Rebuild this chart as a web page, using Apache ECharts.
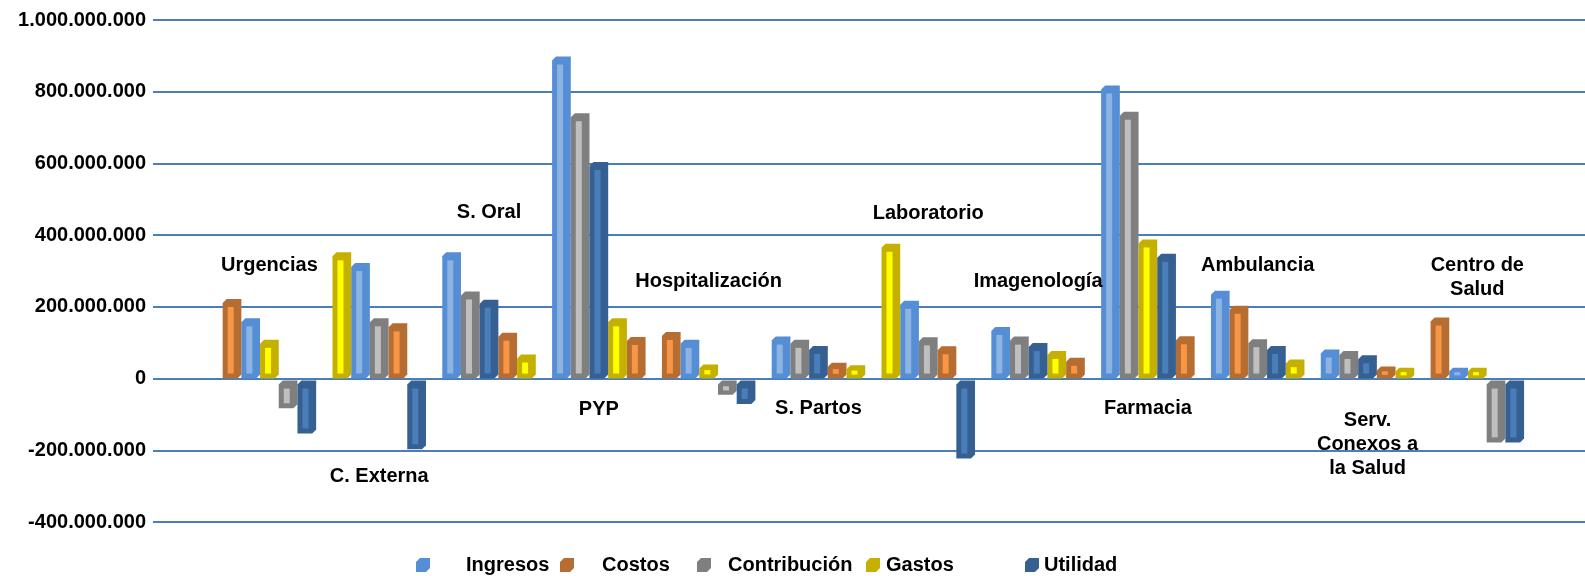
<!DOCTYPE html>
<html>
<head>
<meta charset="utf-8">
<script src="https://cdn.jsdelivr.net/npm/echarts@6/dist/echarts.min.js"></script>
<style>
  html, body { margin: 0; padding: 0; background: #fff; }
  #chart { width: 1585px; height: 576px; }
</style>
</head>
<body>
<div id="chart"></div>
<script>
var categories = ['Urgencias', 'C. Externa', 'S. Oral', 'PYP', 'Hospitalización', 'S. Partos',
  'Laboratorio', 'Imagenología', 'Farmacia', 'Ambulancia', 'Serv.\nConexos a\nla Salud', 'Centro de\nSalud'];
var seriesNames = ['Ingresos', 'Costos', 'Contribución', 'Gastos', 'Utilidad'];

var ingresos     = [168e6, 322e6, 352e6, 898e6, 108e6, 117e6, 217e6, 144e6, 817e6, 245e6, 81e6, 30e6];
var costos       = [222e6, 154e6, 128e6, 116e6, 130e6, 44e6, 90e6, 58e6, 118e6, 203e6, 34e6, 170e6];
var contribucion = [-83e6, 168e6, 243e6, 740e6, -45e6, 108e6, 115e6, 117e6, 744e6, 110e6, 77e6, -178e6];
var gastos       = [108e6, 352e6, 67e6, 168e6, 39e6, 37e6, 376e6, 77e6, 388e6, 53e6, 30e6, 30e6];
var utilidad     = [-153e6, -197e6, 220e6, 604e6, -71e6, 91e6, -223e6, 99e6, 348e6, 91e6, 65e6, -178e6];

var yMin = -400e6, yMax = 1000e6, yStep = 200e6;

// layout (not data)
var colors = ['#558ED5', '#B66D31', '#7F7F7F', '#C5B000', '#376092'];
var innerColors = ['#8DB3E2', '#F79646', '#BFBFBF', '#FFFF00', '#4A7EBB'];
var groupPitch = 5.872;
var labelY = [316e6, -273e6, 464e6, -86e6, 272e6, -83e6, 461e6, 272e6, -83e6, 316e6, -183e6, 281e6];
var legendLeft = [411, 555, 692, 861, 1020];
var legendPad = [31, 23, 12, 1, 0];
var font = '"Liberation Sans", Arial, sans-serif';

var seriesValues = [ingresos, costos, contribucion, gastos, utilidad];

// each category shows its bars sorted from highest to lowest
var slots = seriesValues.map(function () { return []; });
categories.forEach(function (c, g) {
  var order = [0, 1, 2, 3, 4].sort(function (a, b) {
    return (seriesValues[b][g] - seriesValues[a][g]) || (a - b);
  });
  order.forEach(function (s, rank) {
    slots[s][g] = g * groupPitch + rank;
  });
});

function fmt(v) {
  var s = String(Math.abs(v)).replace(/\B(?=(\d{3})+(?!\d))/g, '.');
  return (v < 0 ? '-' : '') + s;
}

function barRenderer(outer, inner) {
  return function (params, api) {
    var x = api.value(0);
    var v = api.value(1);
    var pTop = api.coord([x, Math.max(v, 0)]);
    var pBot = api.coord([x, Math.min(v, 0)]);
    var w = api.size([1, 0])[0];
    var x0 = pTop[0] - w / 2, x1 = pTop[0] + w / 2;
    var y0 = pTop[1], y1 = pBot[1];
    if (v < 0) y0 += 2;
    var h = y1 - y0;
    var c = Math.min(4, h / 3);
    var children = [{
      type: 'polygon',
      shape: { points: [[x0 + c, y0], [x1, y0], [x1, y1 - c], [x1 - c, y1], [x0, y1], [x0, y0 + c]] },
      style: { fill: outer }
    }];
    var padT = Math.min(8, h * 0.4), padB = Math.min(5, h * 0.3);
    if (h - padT - padB > 0.5) {
      children.push({
        type: 'rect',
        shape: { x: x0 + 5, y: y0 + padT, width: 6, height: h - padT - padB },
        style: { fill: inner }
      });
    }
    return { type: 'group', children: children };
  };
}

var series = seriesNames.map(function (name, s) {
  return {
    name: name,
    type: 'custom',
    itemStyle: { color: colors[s] },
    renderItem: barRenderer(colors[s], innerColors[s]),
    encode: { x: 0, y: 1 },
    data: seriesValues[s].map(function (v, g) { return [slots[s][g], v]; })
  };
});

series.push({
  type: 'scatter',
  silent: true,
  symbolSize: 0,
  itemStyle: { opacity: 1 },
  label: {
    show: true,
    position: 'inside',
    color: '#000',
    opacity: 1,
    fontFamily: font,
    fontWeight: 'bold',
    fontSize: 20,
    lineHeight: 24,
    align: 'center',
    formatter: function (p) { return categories[p.dataIndex]; }
  },
  data: categories.map(function (c, g) { return [g * groupPitch + 2, labelY[g]]; })
});

var legends = seriesNames.map(function (name, s) {
  return {
    data: [name],
    left: legendLeft[s],
    top: 550,
    itemWidth: 14,
    itemHeight: 14,
    icon: 'path://M4,0 L14,0 L14,10 L10,14 L0,14 L0,4 Z',
    selectedMode: false,
    textStyle: {
      fontFamily: font,
      fontWeight: 'bold',
      fontSize: 20,
      color: '#000',
      padding: [0, 0, 0, legendPad[s]]
    }
  };
});

var chart = echarts.init(document.getElementById('chart'));
chart.setOption({
  animation: false,
  backgroundColor: '#fff',
  grid: { left: 153, right: 0, top: 20, bottom: 54 },
  legend: legends,
  xAxis: {
    type: 'value',
    min: -4.225,
    max: 72.35,
    show: false
  },
  yAxis: {
    type: 'value',
    min: yMin,
    max: yMax,
    interval: yStep,
    axisLine: { show: false },
    axisTick: { show: false },
    axisLabel: {
      margin: 7,
      fontFamily: font,
      fontWeight: 'bold',
      fontSize: 20,
      color: '#000',
      formatter: fmt
    },
    splitLine: { lineStyle: { color: '#4A7EBB', width: 2 } }
  },
  series: series
});
</script>
</body>
</html>
